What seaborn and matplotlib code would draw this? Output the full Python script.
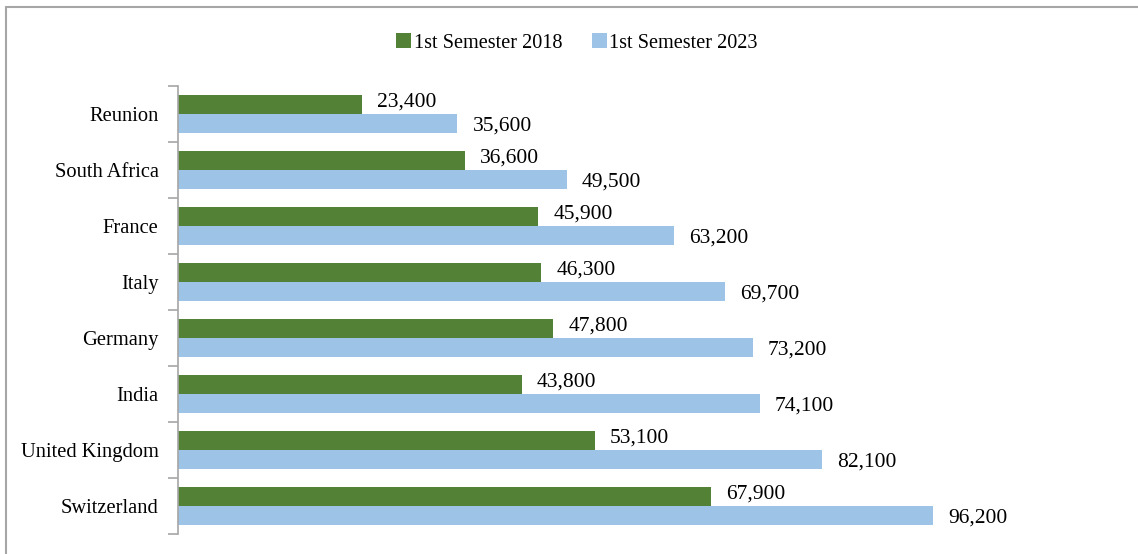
import pandas as pd
import numpy as np
import seaborn as sns
import matplotlib.pyplot as plt
from matplotlib.lines import Line2D
from matplotlib.ticker import FixedLocator

# Chart data
countries = ['Reunion', 'South Africa', 'France', 'Italy', 'Germany',
             'India', 'United Kingdom', 'Switzerland']
sem_2018 = [23400, 36600, 45900, 46300, 47800, 43800, 53100, 67900]
sem_2023 = [35600, 49500, 63200, 69700, 73200, 74100, 82100, 96200]
series_names = ['1st Semester 2018', '1st Semester 2023']

# Long format for seaborn
df = pd.DataFrame({
    'country': countries * 2,
    'value': sem_2018 + sem_2023,
    'series': [series_names[0]] * len(countries) + [series_names[1]] * len(countries),
})

sns.set_style('white')
plt.rcParams['font.family'] = ['Liberation Serif', 'DejaVu Serif']
plt.rcParams['text.color'] = 'black'
plt.rcParams['ytick.color'] = 'black'
plt.rcParams['ytick.labelcolor'] = 'black'

fig = plt.figure(figsize=(11.38, 5.54), dpi=100)
ax = fig.add_axes([178 / 1138, 1 - 534 / 554, (1120 - 178) / 1138, (534 - 86) / 554])

palette = {series_names[0]: '#538135', series_names[1]: '#9DC3E6'}
sns.barplot(data=df, y='country', x='value', hue='series', order=countries,
            hue_order=series_names, palette=palette, orient='h', width=0.68,
            saturation=1, linewidth=0, ax=ax)

ax.set_xlim(0, 120000)
ax.set_ylim(len(countries) - 0.5, -0.5)
ax.set_xlabel('')
ax.set_ylabel('')
ax.set_xticks([])

# value labels at bar ends
for i, cont in enumerate(ax.containers):
    for bar in cont:
        w = bar.get_width()
        yc = bar.get_y() + bar.get_height() / 2
        dy = -0.05 if i == 0 else 0.04
        ax.text(w + 1900, yc + dy, f'{int(w):,}', va='center', ha='left',
                fontsize=15.5, color='black', clip_on=False)

# spines / ticks in Excel style
for s in ['top', 'right', 'bottom']:
    ax.spines[s].set_visible(False)
ax.spines['left'].set_color('#A6A6A6')
ax.spines['left'].set_linewidth(1.2)
ax.tick_params(axis='y', which='major', length=0, pad=14, labelsize=14.8,
               labelcolor='black')
ax.yaxis.set_minor_locator(FixedLocator(np.arange(-0.5, len(countries), 1)))
ax.tick_params(axis='y', which='minor', left=True, length=7, color='#A6A6A6', width=1.2)

# legend on top
handles, labels = ax.get_legend_handles_labels()
ax.legend(handles, labels, loc='center', bbox_to_anchor=(577 / 1138, 1 - 43 / 554),
          bbox_transform=fig.transFigure, frameon=False, ncol=2, fontsize=14.6,
          handlelength=0.74, handleheight=0.74, handletextpad=0.12, columnspacing=1.45)

# light gray frame (top and left edges visible)
fig.add_artist(Line2D([6 / 1138, 6 / 1138], [0, 1 - 7 / 554], color='#A6A6A6', lw=1.5))
fig.add_artist(Line2D([6 / 1138, 1], [1 - 7 / 554, 1 - 7 / 554], color='#A6A6A6', lw=1.5))

fig.savefig('out.png', dpi=100)
